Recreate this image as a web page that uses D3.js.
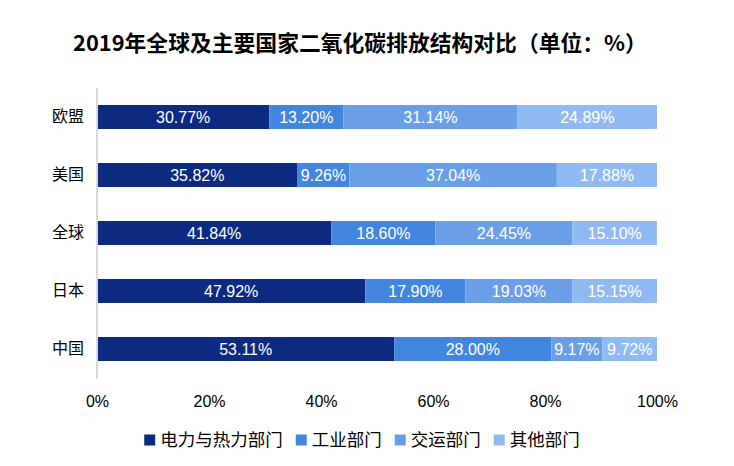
<!DOCTYPE html>
<html>
<head>
<meta charset="utf-8">
<script src="https://cdn.jsdelivr.net/npm/d3@7"></script>
<style>
  html, body { margin: 0; padding: 0; background: #fff; }
  svg { display: block; }
  text { font-family: "Liberation Sans", Arial, "Noto Sans CJK SC", sans-serif; }
</style>
</head>
<body>
<svg id="chart" width="734" height="466"></svg>
<script>
const title = "2019年全球及主要国家二氧化碳排放结构对比（单位：%）";
const categories = ["欧盟", "美国", "全球", "日本", "中国"];
const seriesNames = ["电力与热力部门", "工业部门", "交运部门", "其他部门"];
const power = [30.77, 35.82, 41.84, 47.92, 53.11];
const industry = [13.20, 9.26, 18.60, 17.90, 28.00];
const transport = [31.14, 37.04, 24.45, 19.03, 9.17];
const other = [24.89, 17.88, 15.10, 15.15, 9.72];
const tickValues = [0, 20, 40, 60, 80, 100];
const colors = ["#0C2B80", "#4286E0", "#6A9FE7", "#92BAF2"];

const svg = d3.select("#chart");
const keys = ["power", "industry", "transport", "other"];
const table = categories.map((c, i) => ({
  cat: c, power: power[i], industry: industry[i], transport: transport[i], other: other[i]
}));
const stack = d3.stack().keys(keys)(table);

const x = d3.scaleLinear().domain([0, 100]).range([97, 657]);
const y = d3.scaleBand().domain(categories).range([88, 378]).paddingInner(0.586).paddingOuter(0.293);

// title
svg.append("text")
  .attr("x", 360).attr("y", 51)
  .attr("text-anchor", "middle")
  .style("font-family", "'Noto Sans CJK SC', sans-serif")
  .style("font-weight", "bold")
  .style("font-size", "21.8px")
  .attr("fill", "#000")
  .text(title);

// bars
const groups = svg.append("g").selectAll("g").data(stack).join("g")
  .attr("fill", (d, i) => colors[i]);
groups.selectAll("rect").data(d => d).join("rect")
  .attr("x", d => x(d[0]) + (d[0] === 0 ? 1 : 0))
  .attr("y", d => y(d.data.cat))
  .attr("width", d => x(d[1]) - x(d[0]) - (d[0] === 0 ? 1 : 0))
  .attr("height", y.bandwidth());

// value labels
groups.each(function(s) {
  d3.select(this).selectAll("text.val").data(s).join("text")
    .attr("class", "val")
    .attr("x", d => (x(d[0]) + x(d[1])) / 2)
    .attr("y", d => y(d.data.cat) + y.bandwidth() / 2)
    .attr("dy", "0.36em")
    .attr("text-anchor", "middle")
    .attr("fill", "#fff")
    .style("font-size", "16px")
    .text(d => (d[1] - d[0]).toFixed(2) + "%");
});

// vertical axis line
svg.append("line")
  .attr("x1", 97).attr("x2", 97)
  .attr("y1", 88).attr("y2", 379)
  .attr("stroke", "#D9D9D9").attr("stroke-width", 2);

// category labels
const yAxis = svg.append("g").attr("transform", "translate(84,0)")
  .call(d3.axisLeft(y).tickSize(0).tickPadding(0));
yAxis.select(".domain").remove();
yAxis.selectAll("text")
  .style("font-family", "'Noto Sans CJK SC', sans-serif")
  .style("font-size", "16px")
  .attr("fill", "#000");

// x axis
const xAxis = svg.append("g").attr("transform", "translate(0,396)")
  .call(d3.axisBottom(x).tickValues(tickValues).tickSize(0).tickPadding(0).tickFormat(d => d + "%"));
xAxis.select(".domain").remove();
xAxis.selectAll("text")
  .style("font-family", "'Liberation Sans', Arial, sans-serif")
  .style("font-size", "16px")
  .attr("fill", "#000");

// legend
const legend = svg.append("g");
let cx = 0;
seriesNames.forEach((name, i) => {
  const g = legend.append("g");
  g.append("rect").attr("x", 0).attr("y", -5.5).attr("width", 11).attr("height", 11).attr("fill", colors[i]);
  const t = g.append("text").attr("x", 16).attr("y", 0).attr("dy", "0.36em")
    .style("font-family", "'Noto Sans CJK SC', sans-serif")
    .style("font-size", "17.5px").attr("fill", "#000").text(name);
  const w = 16 + t.node().getComputedTextLength();
  g.attr("transform", `translate(${cx},0)`);
  cx += w + 13;
});
const totalW = cx - 13;
legend.attr("transform", `translate(${362 - totalW / 2},440)`);
</script>
</body>
</html>
